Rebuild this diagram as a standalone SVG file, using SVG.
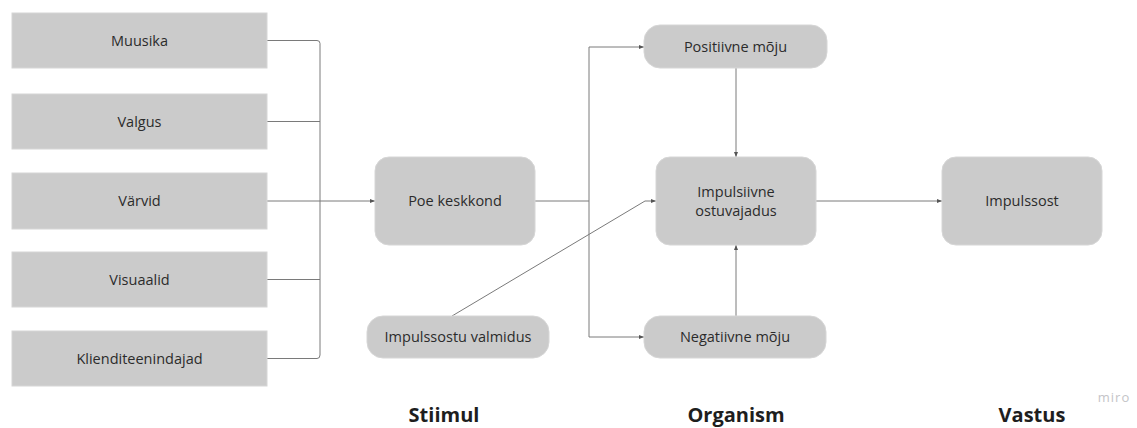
<svg xmlns="http://www.w3.org/2000/svg" width="1137" height="428" viewBox="0 0 1137 428">
<defs>
<marker id="ah" viewBox="0 0 10 10" refX="10" refY="5" markerWidth="5" markerHeight="5" orient="auto" markerUnits="userSpaceOnUse">
<path d="M0,1 L10,5 L0,9 Z" fill="#555"/>
</marker>
<style>
.box{fill:#cbcbcb;stroke:#d6d6d6;stroke-width:1}
.t{font-family:"Open Sans","Liberation Sans",sans-serif;font-size:14.5px;fill:#2b2b2b;text-anchor:middle}
.h{font-family:"Open Sans","Liberation Sans",sans-serif;font-size:20px;font-weight:bold;fill:#1e1e1e;text-anchor:middle}
.c{fill:none;stroke:#7a7a7a;stroke-width:1}
.a{marker-end:url(#ah)}
</style>
</defs>
<rect width="1137" height="428" fill="#ffffff"/>
<g id="connectors">
<path class="c" d="M267,40.5 H317 Q320,40.5 320,43.5 V355 Q320,358.5 317,358.5 H267"/>
<path class="c" d="M267,121.5 H320"/>
<path class="c" d="M267,201 H320"/>
<path class="c" d="M267,279.5 H320"/>
<path class="c a" d="M320,201 H375"/>
<path class="c" d="M535,201 H589"/>
<path class="c a" d="M589,201 V47 H644"/>
<path class="c a" d="M589,201 V337 H644"/>
<path class="c a" d="M736,68 V157"/>
<path class="c a" d="M736,316 V245"/>
<path class="c a" d="M452,316 L645,201 H656"/>
<path class="c a" d="M816,201 H942"/>
</g>
<g id="n-muusika"><rect class="box" x="12" y="13" width="255" height="55"/><text class="t" x="139.5" y="45.5">Muusika</text></g>
<g id="n-valgus"><rect class="box" x="12" y="94" width="255" height="55"/><text class="t" x="139.5" y="126.5">Valgus</text></g>
<g id="n-varvid"><rect class="box" x="12" y="173" width="255" height="56"/><text class="t" x="139.5" y="206">Värvid</text></g>
<g id="n-visuaalid"><rect class="box" x="12" y="252" width="255" height="55"/><text class="t" x="139.5" y="284.5">Visuaalid</text></g>
<g id="n-klient"><rect class="box" x="12" y="331" width="255" height="55"/><text class="t" x="139.5" y="363.5">Klienditeenindajad</text></g>
<g id="n-poe"><rect class="box" x="375" y="157" width="160" height="88" rx="14"/><text class="t" x="455" y="206">Poe keskkond</text></g>
<g id="n-valmidus"><rect class="box" x="367" y="316" width="182" height="42" rx="16"/><text class="t" x="458" y="342">Impulssostu valmidus</text></g>
<g id="n-pos"><rect class="box" x="644" y="25" width="183" height="43" rx="16"/><text class="t" x="735.5" y="51.5">Positiivne mõju</text></g>
<g id="n-imp"><rect class="box" x="656" y="157" width="160" height="88" rx="14"/><text class="t" x="736" y="197">Impulsiivne</text><text class="t" x="736" y="216">ostuvajadus</text></g>
<g id="n-neg"><rect class="box" x="644" y="316" width="182" height="42" rx="16"/><text class="t" x="735" y="342">Negatiivne mõju</text></g>
<g id="n-impulssost"><rect class="box" x="942" y="157" width="160" height="88" rx="14"/><text class="t" x="1022" y="206">Impulssost</text></g>
<g id="labels">
<text class="h" x="444" y="422">Stiimul</text>
<text class="h" x="736" y="422">Organism</text>
<text class="h" x="1032" y="422">Vastus</text>
<text x="1114" y="402" style="font-family:'Open Sans','Liberation Sans',sans-serif;font-size:13px;fill:#c4c4c8;text-anchor:middle;letter-spacing:1px">miro</text>
</g>
</svg>
